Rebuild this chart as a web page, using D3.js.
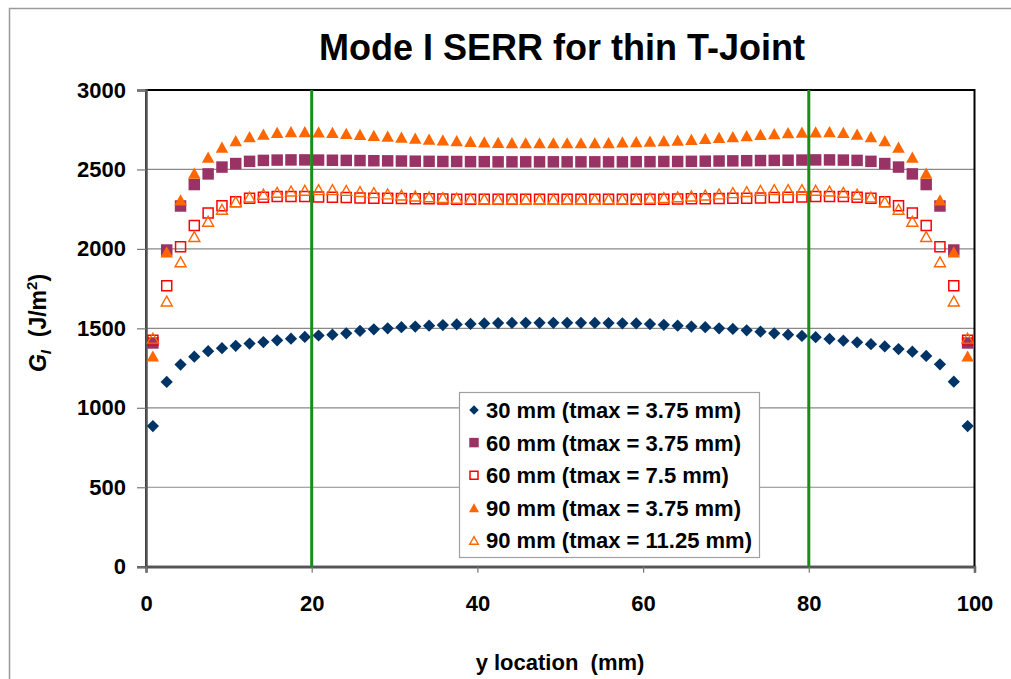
<!DOCTYPE html>
<html>
<head>
<meta charset="utf-8">
<script src="https://cdn.jsdelivr.net/npm/d3@7"></script>
<style>
  html, body { margin: 0; padding: 0; background: #fff; }
  svg { display: block; }
  text { font-family: "Liberation Sans", Arial, sans-serif; font-weight: bold; fill: #000; }
</style>
</head>
<body>
<svg id="chart" width="1011" height="679"></svg>
<script>
// Crack-front positions (mm): 60 stations across the 100 mm joint width
const yLocation = [
  0.83, 2.50, 4.17, 5.83, 7.50, 9.17, 10.83, 12.50, 14.17, 15.83,
  17.50, 19.17, 20.83, 22.50, 24.17, 25.83, 27.50, 29.17, 30.83, 32.50,
  34.17, 35.83, 37.50, 39.17, 40.83, 42.50, 44.17, 45.83, 47.50, 49.17,
  50.83, 52.50, 54.17, 55.83, 57.50, 59.17, 60.83, 62.50, 64.17, 65.83,
  67.50, 69.17, 70.83, 72.50, 74.17, 75.83, 77.50, 79.17, 80.83, 82.50,
  84.17, 85.83, 87.50, 89.17, 90.83, 92.50, 94.17, 95.83, 97.50, 99.17
];

// Mode I strain energy release rate G_I (J/m^2)
const g30_t375 = [
  885, 1163, 1272, 1322, 1356, 1375, 1390, 1404, 1414, 1425,
  1435, 1446, 1455, 1460, 1469, 1484, 1494, 1500, 1507, 1511,
  1517, 1521, 1525, 1528, 1531, 1533, 1534, 1535, 1535, 1535,
  1535, 1535, 1534, 1533, 1532, 1531, 1527, 1522, 1517, 1511,
  1507, 1500, 1496, 1488, 1479, 1469, 1460, 1452, 1444, 1433,
  1422, 1412, 1400, 1386, 1370, 1353, 1326, 1274, 1164, 885
];
const g60_t375 = [
  1408, 1993, 2270, 2405, 2472, 2515, 2537, 2551, 2557, 2559,
  2560, 2560, 2559, 2558, 2557, 2556, 2555, 2554, 2553, 2552,
  2551, 2550, 2550, 2549, 2549, 2548, 2548, 2548, 2548, 2548,
  2548, 2548, 2548, 2548, 2548, 2549, 2549, 2550, 2550, 2551,
  2552, 2553, 2554, 2555, 2556, 2557, 2558, 2559, 2560, 2560,
  2559, 2557, 2551, 2537, 2515, 2472, 2405, 2270, 1993, 1408
];
const g60_t75 = [
  1425, 1768, 2014, 2148, 2226, 2271, 2297, 2318, 2325, 2329,
  2330, 2329, 2327, 2325, 2323, 2321, 2319, 2318, 2317, 2316,
  2315, 2314, 2313, 2313, 2312, 2312, 2312, 2312, 2312, 2312,
  2312, 2312, 2312, 2312, 2312, 2312, 2313, 2313, 2314, 2315,
  2316, 2317, 2318, 2319, 2321, 2323, 2325, 2327, 2329, 2330,
  2329, 2325, 2318, 2297, 2271, 2226, 2148, 2014, 1768, 1425
];
const g90_t375 = [
  1326, 1982, 2308, 2477, 2578, 2641, 2681, 2706, 2723, 2734,
  2738, 2738, 2737, 2733, 2727, 2721, 2715, 2709, 2703, 2697,
  2691, 2686, 2681, 2677, 2673, 2671, 2669, 2668, 2668, 2668,
  2668, 2668, 2668, 2669, 2673, 2675, 2679, 2681, 2685, 2690,
  2696, 2702, 2706, 2713, 2720, 2726, 2731, 2735, 2737, 2738,
  2734, 2723, 2706, 2681, 2641, 2578, 2477, 2308, 1982, 1326
];
const g90_t1125 = [
  1438, 1672, 1919, 2078, 2174, 2249, 2297, 2327, 2344, 2356,
  2364, 2369, 2373, 2373, 2368, 2361, 2354, 2346, 2339, 2333,
  2328, 2323, 2319, 2316, 2314, 2313, 2313, 2312, 2312, 2312,
  2312, 2312, 2312, 2313, 2314, 2316, 2319, 2323, 2328, 2333,
  2339, 2346, 2354, 2361, 2368, 2373, 2373, 2373, 2369, 2364,
  2356, 2344, 2327, 2297, 2249, 2174, 2078, 1919, 1672, 1438
];

const seriesNames = [
  "30 mm (tmax = 3.75 mm)",
  "60 mm (tmax = 3.75 mm)",
  "60 mm (tmax = 7.5 mm)",
  "90 mm (tmax = 3.75 mm)",
  "90 mm (tmax = 11.25 mm)"
];
const seriesValues = [g30_t375, g60_t375, g60_t75, g90_t375, g90_t1125];

const xTicks = [0, 20, 40, 60, 80, 100];
const yTicks = [0, 500, 1000, 1500, 2000, 2500, 3000];
const refLines = [20, 80];   // vertical reference positions (mm)

// ---- marker shapes ----
const diamond = { draw(ctx, size) { const r = Math.sqrt(size) / 2;
  ctx.moveTo(0, -r); ctx.lineTo(r, 0); ctx.lineTo(0, r); ctx.lineTo(-r, 0); ctx.closePath(); } };
const square = { draw(ctx, size) { const r = Math.sqrt(size) / 2;
  ctx.rect(-r, -r, 2 * r, 2 * r); } };
const triangle = { draw(ctx, size) { const w = Math.sqrt(size), h = w * 0.9;
  ctx.moveTo(0, -h / 2); ctx.lineTo(w / 2, h / 2); ctx.lineTo(-w / 2, h / 2); ctx.closePath(); } };

const styles = [
  { type: diamond,  size: 150, lsize: 90,  fill: "#003366", stroke: "none",    sw: 0 },
  { type: square,   size: 132, lsize: 90,  fill: "#993366", stroke: "none",    sw: 0 },
  { type: square,   size: 100, lsize: 64,  fill: "none",    stroke: "#FF0000", sw: 1.5 },
  { type: triangle, size: 156, lsize: 100, fill: "#FF6600", stroke: "none",    sw: 0 },
  { type: triangle, size: 121, lsize: 72,  fill: "none",    stroke: "#FF6600", sw: 1.4 }
];

const svg = d3.select("#chart");

// chart area frame
svg.append("rect").attr("x", 9.5).attr("y", 8.5).attr("width", 1100).attr("height", 800)
  .attr("fill", "#fff").attr("stroke", "#9a9a9a").attr("stroke-width", 1.5);

const plotL = 146, plotR = 974.5, plotT = 90, plotB = 566.7;
const x = d3.scaleLinear().domain([0, 100]).range([plotL, plotR]);
const y = d3.scaleLinear().domain([0, 3000]).range([plotB, plotT]);

// title
svg.append("text").attr("x", 562).attr("y", 60).attr("text-anchor", "middle")
  .style("font-size", "36px").text("Mode I SERR for thin T-Joint");

// gridlines
svg.append("g").selectAll("line").data(yTicks.filter(d => d > 0 && d < 3000)).join("line")
  .attr("x1", plotL).attr("x2", plotR).attr("y1", d => y(d)).attr("y2", d => y(d))
  .attr("stroke", "#8a8a8a").attr("stroke-width", 1.2);

// plot area border
svg.append("rect").attr("x", plotL).attr("y", plotT).attr("width", plotR - plotL).attr("height", plotB - plotT)
  .attr("fill", "none").attr("stroke", "#000").attr("stroke-width", 2);

// axes
const yAxis = svg.append("g").attr("transform", `translate(${plotL},0)`)
  .call(d3.axisLeft(y).tickValues(yTicks).tickSize(9).tickPadding(11).tickFormat(d3.format("d")));
const xAxis = svg.append("g").attr("transform", `translate(0,${plotB})`)
  .call(d3.axisBottom(x).tickValues(xTicks).tickSize(6).tickPadding(23).tickFormat(d3.format("d")));
[yAxis, xAxis].forEach(g => {
  g.select(".domain").attr("stroke", "#555").attr("stroke-width", 2.5);
  g.selectAll(".tick line").attr("stroke", "#777").attr("stroke-width", 1.2);
  g.selectAll(".tick text").style("font-size", "22px").style("font-weight", "bold")
    .style("font-family", '"Liberation Sans", Arial, sans-serif').attr("fill", "#000");
});

// series markers
seriesValues.forEach((vals, si) => {
  const st = styles[si];
  const sym = d3.symbol().type(st.type).size(st.size);
  svg.append("g").selectAll("path").data(vals).join("path")
    .attr("transform", (d, i) => `translate(${x(yLocation[i])},${y(d)})`)
    .attr("d", sym)
    .attr("fill", st.fill).attr("stroke", st.stroke).attr("stroke-width", st.sw);
});

// reference lines at 20 mm and 80 mm
svg.append("g").selectAll("line").data(refLines).join("line")
  .attr("x1", d => x(d)).attr("x2", d => x(d)).attr("y1", plotT).attr("y2", plotB)
  .attr("stroke", "#1a8c1a").attr("stroke-width", 3);

// axis titles
const yTitle = svg.append("text").attr("transform", "translate(46,323) rotate(-90)")
  .attr("text-anchor", "middle").style("font-size", "23px");
yTitle.append("tspan").style("font-style", "italic").text("G");
yTitle.append("tspan").style("font-style", "italic").style("font-size", "15px").attr("dy", 5).text("I");
yTitle.append("tspan").attr("dy", -5).style("white-space", "pre").text("  (J/m");
yTitle.append("tspan").style("font-size", "15px").attr("dy", -9).text("2");
yTitle.append("tspan").attr("dy", 9).text(")");

svg.append("text").attr("x", 560).attr("y", 670).attr("text-anchor", "middle")
  .style("font-size", "22px").style("white-space", "pre").text("y location  (mm)");

// legend
const lg = svg.append("g").attr("transform", "translate(459,392)");
lg.append("rect").attr("x", 0.5).attr("y", 0.5).attr("width", 300).attr("height", 165)
  .attr("fill", "#fff").attr("stroke", "#a0a0a0").attr("stroke-width", 1.2);
seriesNames.forEach((name, si) => {
  const st = styles[si];
  const row = lg.append("g").attr("transform", `translate(15,${18 + si * 32.6})`);
  row.append("path").attr("d", d3.symbol().type(st.type).size(st.lsize))
    .attr("fill", st.fill).attr("stroke", st.stroke).attr("stroke-width", st.sw);
  row.append("text").attr("x", 12).attr("y", 8).style("font-size", "22px").text(name);
});
</script>
</body>
</html>
